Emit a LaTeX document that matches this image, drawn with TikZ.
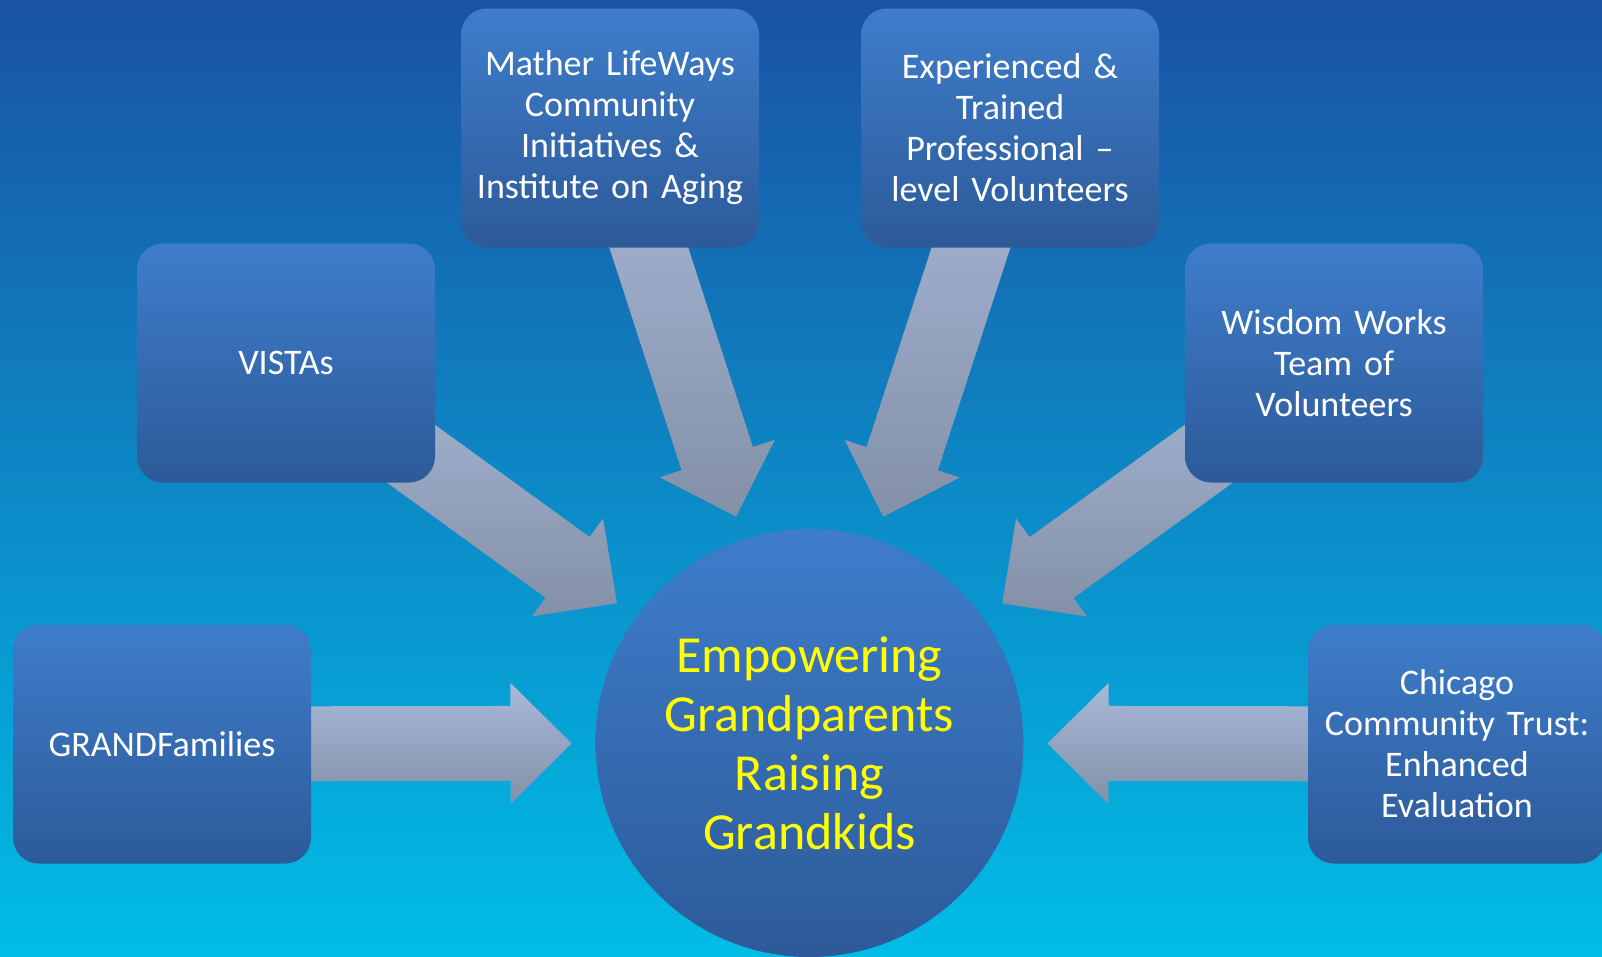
\documentclass[tikz,border=0pt]{standalone}
\usepackage{fontspec}
\setmainfont{Carlito}
\usetikzlibrary{calc}
\definecolor{bgtop}{HTML}{1A52A4}
\definecolor{bgbot}{HTML}{00BDE6}
\definecolor{boxtop}{HTML}{3E7DCB}
\definecolor{boxbot}{HTML}{2D5A99}
\definecolor{arrtop}{HTML}{A9B9DA}
\definecolor{arrbot}{HTML}{8390A7}
\definecolor{hubtext}{HTML}{FFFF00}
\tikzset{srcbox/.style={rounded corners=26pt, top color=boxtop, bottom color=boxbot,
  minimum width=298pt, minimum height=239pt, text width=290pt, align=center,
  text=white, font=\fontsize{36}{41}\selectfont, inner sep=0pt}}
\tikzset{hubnode/.style={circle, top color=boxtop, bottom color=boxbot,
  minimum size=428pt, align=center, text=hubtext,
  font=\fontsize{52}{59}\selectfont, inner sep=0pt}}
\newcommand{\feedarrow}[2]{%
  \coordinate (tip) at ($(#2)!238pt!(#1)$);
  \coordinate (hb) at ($(tip)!61pt!(#1)$);
  \shade[top color=arrtop, bottom color=arrbot]
    ($(#1)!37.5pt!90:(tip)$) -- ($(hb)!37.5pt!90:(tip)$) -- ($(hb)!60.5pt!90:(tip)$)
    -- (tip) -- ($(hb)!60.5pt!-90:(tip)$) -- ($(hb)!37.5pt!-90:(tip)$)
    -- ($(#1)!37.5pt!-90:(tip)$) -- cycle;}
\pgfdeclarelayer{back}
\pgfsetlayers{back,main}

\begin{document}
\begin{tikzpicture}[x=1pt, y=-1pt]
\useasboundingbox (0,0) rectangle (1602,956);
\clip (0,0) rectangle (1602,956);

\node[hubnode] (hub) at (809.5,743) {Empowering\\Grandparents\\Raising\\Grandkids};
\node[srcbox] (mather) at (610,128) {Mather LifeWays\\Community\\Initiatives \&\\Institute on Aging};
\node[srcbox] (exper) at (1010,128) {Experienced \&\\Trained\\Professional --\\level Volunteers};
\node[srcbox] (vistas) at (286,363) {VISTAs};
\node[srcbox] (wisdom) at (1334,363) {Wisdom Works\\Team of\\Volunteers};
\node[srcbox] (grand) at (162,744) {GRANDFamilies};
\node[srcbox] (chicago) at (1457,744) {Chicago\\Community Trust:\\Enhanced\\Evaluation};

\begin{pgfonlayer}{back}
\shade[top color=bgtop, bottom color=bgbot] (0,0) rectangle (1602,956);
\feedarrow{mather}{hub}
\feedarrow{exper}{hub}
\feedarrow{vistas}{hub}
\feedarrow{wisdom}{hub}
\feedarrow{grand}{hub}
\feedarrow{chicago}{hub}
\end{pgfonlayer}
\end{tikzpicture}
\end{document}
